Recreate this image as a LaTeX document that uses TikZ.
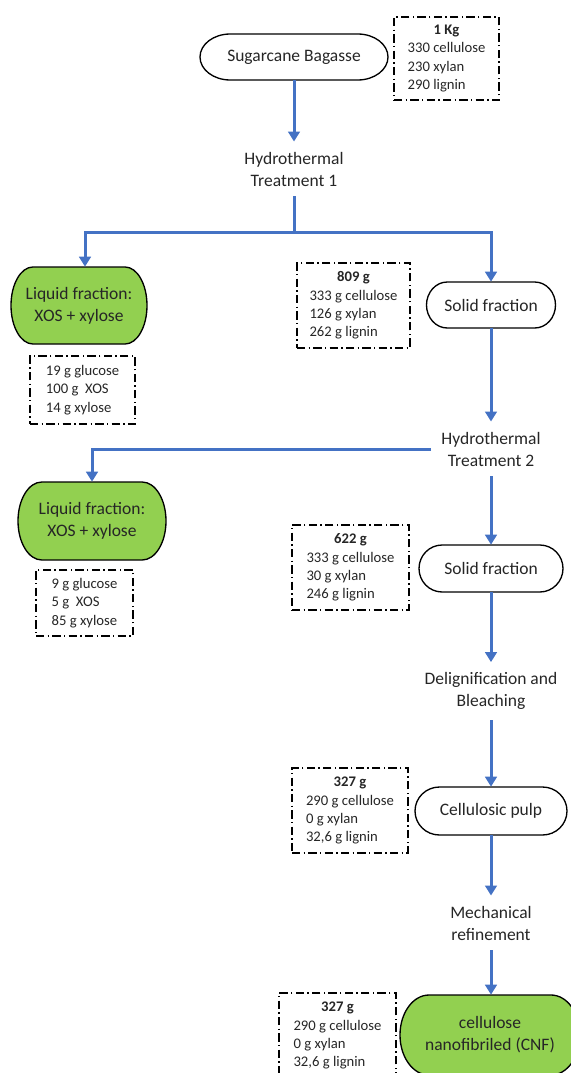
\documentclass[tikz,border=0pt]{standalone}
\usepackage{fontspec}
\setmainfont{Carlito}
\usepackage{xcolor}
\usetikzlibrary{arrows.meta,positioning}
\definecolor{flowblue}{HTML}{4472C4}
\definecolor{fracgreen}{HTML}{92D050}
\newcommand{\px}{0.6pt}
\newcommand{\massfont}{\fontsize{8.8}{11}\selectfont}
% flowchart terminator: centre x, centre y, width, height, fill
\newcommand{\termbox}[5]{%
  \draw[line width=0.8pt, fill=#5]
    ({#1-#3/2+0.161*#3},{#2-#4/2}) -- ({#1+#3/2-0.161*#3},{#2-#4/2})
    arc[start angle=90, end angle=-90, x radius={0.161*#3*\px}, y radius={#4/2*\px}]
    -- ({#1-#3/2+0.161*#3},{#2+#4/2})
    arc[start angle=270, end angle=90, x radius={0.161*#3*\px}, y radius={#4/2*\px}]
    -- cycle;}

\begin{document}
\begin{tikzpicture}[x=\px, y=-\px,
    >={Triangle[width=7pt,length=6pt]},
    flow/.style={draw=flowblue, line width=1.8pt},
    term/.style 2 args={minimum width=#1*\px, minimum height=#2*\px, align=center, inner sep=0pt,
      text=black!85, font=\fontsize{10.5}{13.2}\selectfont},
    stage/.style={align=center, inner sep=6pt, text=black!85, font=\fontsize{10.5}{13.2}\selectfont},
    mass/.style={draw, line width=0.7pt, dash pattern=on 5pt off 2pt on 0.8pt off 2pt,
      inner sep=0pt, text=black!85, font=\massfont}]
    \useasboundingbox (0,0) rectangle (571,1073);
    \clip (0,0) rectangle (571,1073);

    % raw material
    \termbox{294}{57}{188}{46}{white}
    \node(SB) at (294,57) [term={188}{46}] {Sugarcane Bagasse};
    \node(M0) at (446.5,58.5) [mass, minimum width=105*\px, minimum height=83*\px]
      {\begin{tabular}{@{}l@{}}\multicolumn{1}{@{}c@{}}{\textbf{1 Kg}}\\330 cellulose\\230 xylan\\290 lignin\end{tabular}};

    % first hydrothermal step
    \node(HT1) at (294,169) [stage] {Hydrothermal\\Treatment 1}
      edge [flow, <-] (SB)
      ;
    \coordinate(J1) at (294,232);
    \termbox{79}{305.5}{136}{77}{fracgreen}
    \node(LF1) at (79,305.5) [term={136}{77}] {Liquid fraction:\\XOS + xylose};
    \coordinate(T1) at ([xshift=6*\px]LF1.north);
    \termbox{491}{305}{129}{46}{white}
    \node(SF1) at (491,305) [term={129}{46}] {Solid fraction};
    \draw [flow] (HT1) -- (J1);
    \draw [flow, ->] (J1) -| (T1);
    \draw [flow, ->] (J1) -| (SF1.north);
    \node(L1) at (82.5,390) [mass, minimum width=105*\px, minimum height=68*\px]
      {\begin{tabular}{@{}l@{}}19 g glucose\\100 g\ \ XOS\\14 g xylose\end{tabular}};
    \node(M1) at (353.5,305.5) [mass, minimum width=113*\px, minimum height=85*\px]
      {\begin{tabular}{@{}l@{}}\multicolumn{1}{@{}c@{}}{\textbf{809 g}}\\333 g cellulose\\126 g xylan\\262 g lignin\end{tabular}};

    % second hydrothermal step
    \node(HT2) at (491,449) [stage] {Hydrothermal\\Treatment 2}
      edge [flow, <-] (SF1)
      ;
    \termbox{92}{521}{148}{78}{fracgreen}
    \node(LF2) at (92,521) [term={148}{78}] {Liquid fraction:\\XOS + xylose};
    \draw [flow, ->] (HT2.west) -| (LF2.north);
    \termbox{491}{568.5}{144}{47}{white}
    \node(SF2) at (491,568.5) [term={144}{47}] {Solid fraction}
      edge [flow, <-] (HT2)
      ;
    \node(L2) at (84.5,603) [mass, minimum width=97*\px, minimum height=66*\px]
      {\begin{tabular}{@{}l@{}}9 g glucose\\5 g\ \ XOS\\85 g xylose\end{tabular}};
    \node(M2) at (350.5,567.5) [mass, minimum width=117*\px, minimum height=85*\px]
      {\begin{tabular}{@{}l@{}}\multicolumn{1}{@{}c@{}}{\textbf{622 g}}\\333 g cellulose\\30 g xylan\\246 g lignin\end{tabular}};

    % pulp and refining
    \node(DB) at (491,691) [stage] {Delignification and\\Bleaching}
      edge [flow, <-] (SF2)
      ;
    \termbox{491}{811}{152}{48}{white}
    \node(CP) at (491,811) [term={152}{48}] {Cellulosic pulp}
      edge [flow, <-] (DB)
      ;
    \node(M3) at (350,810.5) [mass, minimum width=116*\px, minimum height=85*\px]
      {\begin{tabular}{@{}l@{}}\multicolumn{1}{@{}c@{}}{\textbf{327 g}}\\290 g cellulose\\0 g xylan\\32,6 g lignin\end{tabular}};
    \node(MR) at (491,923) [stage] {Mechanical\\refinement}
      edge [flow, <-] (CP)
      ;
    \termbox{490}{1035}{180}{80}{fracgreen}
    \node(CNF) at (490,1035) [term={180}{80}] {cellulose\\nanofibriled (CNF)};
    \draw [flow, ->] (MR) -- (MR |- CNF.north);
    \node(M4) at (337.5,1035.5) [mass, minimum width=117*\px, minimum height=85*\px]
      {\begin{tabular}{@{}l@{}}\multicolumn{1}{@{}c@{}}{\textbf{327 g}}\\290 g cellulose\\0 g xylan\\32,6 g lignin\end{tabular}};
\end{tikzpicture}
\end{document}
